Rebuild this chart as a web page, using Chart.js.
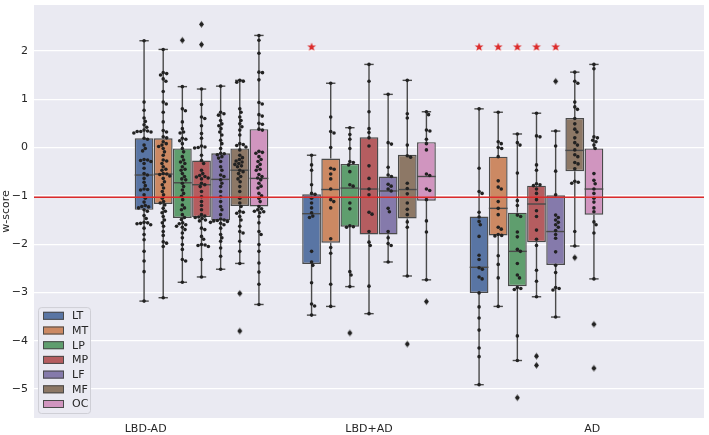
<!DOCTYPE html>
<html><head><meta charset="utf-8">
<script src="https://cdn.jsdelivr.net/npm/chart.js@4"></script>
<style>html,body{margin:0;padding:0;background:#fff}#wrap{width:709px;height:435px;position:relative}</style>
</head><body><div id="wrap"><canvas id="c"></canvas></div>
<script>
const groups = ['LBD-AD', 'LBD+AD', 'AD'];
const regions = ['LT', 'MT', 'LP', 'MP', 'LF', 'MF', 'OC'];
const colors = ['#5975a4', '#cc8963', '#5f9e6e', '#b55d60', '#857aab', '#8d7866', '#d095bf'];
const yTickValues = [-5, -4, -3, -2, -1, 0, 1, 2];

// box statistics per group (rows) and region (columns)
const boxQ3 = [
  [0.19, 0.19, -0.02, -0.27, -0.12, -0.02, 0.38],
  [-0.97, -0.23, -0.34, 0.21, -0.60, -0.15, 0.11],
  [-1.43, -0.19, -1.35, -0.79, -0.99, 0.61, -0.02]
];
const boxMedian = [
  [-0.57, -0.55, -0.73, -0.77, -0.66, -0.47, -0.64],
  [-1.37, -0.87, -0.84, -0.86, -0.90, -0.87, -0.60],
  [-2.48, -1.26, -2.15, -1.17, -1.74, -0.06, -0.86]
];
const boxQ1 = [
  [-1.29, -1.17, -1.46, -1.44, -1.51, -1.21, -1.22],
  [-2.41, -1.97, -1.64, -1.80, -1.80, -1.47, -1.10],
  [-3.01, -1.82, -2.87, -1.96, -2.43, -0.49, -1.39]
];
const whiskerHigh = [
  [2.21, 2.03, 1.26, 1.21, 1.27, 1.39, 2.32],
  [-0.16, 1.33, 0.41, 1.72, 1.10, 1.39, 0.74],
  [0.80, 0.73, 0.28, 0.71, 0.34, 1.56, 1.72]
];
const whiskerLow = [
  [-3.18, -3.11, -2.79, -2.68, -2.52, -2.40, -3.25],
  [-3.47, -3.29, -2.88, -3.44, -2.37, -2.66, -2.74],
  [-4.91, -3.29, -4.41, -3.09, -3.51, -2.04, -2.72]
];

// individual subjects (swarm) per region
const swarmLBD_AD = [
  [2.21, 0.94, 0.77, 0.61, 0.54, 0.47, 0.42, 0.36, 0.34, 0.33, 0.33, 0.32, 0.30, 0.19, 0.17, 0.05, -0.02, -0.07, -0.25, -0.26, -0.27, -0.29, -0.33, -0.43, -0.54, -0.57, -0.64, -0.72, -0.79, -0.86, -0.87, -0.88, -0.98, -1.05, -1.13, -1.20, -1.22, -1.23, -1.25, -1.29, -1.32, -1.41, -1.47, -1.55, -1.56, -1.57, -1.58, -1.60, -1.67, -1.80, -1.91, -2.15, -2.35, -2.57, -3.18],
  [2.03, 1.55, 1.53, 1.50, 1.42, 1.37, 1.16, 0.94, 0.90, 0.73, 0.53, 0.35, 0.32, 0.22, 0.20, 0.12, 0.08, 0.05, 0.02, -0.02, -0.09, -0.16, -0.26, -0.28, -0.33, -0.40, -0.45, -0.47, -0.54, -0.55, -0.56, -0.59, -0.64, -0.71, -0.77, -0.84, -0.91, -0.98, -1.05, -1.12, -1.15, -1.19, -1.26, -1.32, -1.35, -1.43, -1.50, -1.56, -1.63, -1.74, -1.82, -1.95, -1.98, -2.05, -3.11],
  [2.22, 1.26, 0.80, 0.76, 0.53, 0.39, 0.32, 0.30, 0.19, 0.17, 0.14, 0.08, -0.02, -0.09, -0.19, -0.26, -0.30, -0.33, -0.40, -0.45, -0.47, -0.54, -0.60, -0.65, -0.67, -0.74, -0.81, -0.88, -0.95, -1.01, -1.08, -1.19, -1.25, -1.29, -1.39, -1.45, -1.49, -1.56, -1.58, -1.60, -1.63, -1.65, -1.70, -1.77, -1.87, -2.01, -2.11, -2.32, -2.35, -2.79],
  [2.55, 2.13, 1.21, 0.89, 0.63, 0.60, 0.45, 0.29, 0.19, 0.03, 0.01, 0.00, -0.01, -0.16, -0.27, -0.33, -0.47, -0.54, -0.58, -0.60, -0.61, -0.63, -0.65, -0.74, -0.77, -0.81, -0.91, -1.02, -1.12, -1.20, -1.29, -1.39, -1.42, -1.44, -1.45, -1.47, -1.50, -1.52, -1.67, -1.70, -1.84, -1.90, -2.01, -2.02, -2.03, -2.05, -2.32, -2.68],
  [1.27, 0.73, 0.70, 0.67, 0.56, 0.49, 0.45, 0.39, 0.32, 0.26, 0.15, 0.08, -0.02, -0.12, -0.13, -0.15, -0.19, -0.22, -0.29, -0.40, -0.47, -0.57, -0.60, -0.67, -0.74, -0.81, -0.91, -1.02, -1.12, -1.22, -1.29, -1.39, -1.48, -1.50, -1.51, -1.52, -1.53, -1.55, -1.57, -1.60, -1.67, -1.80, -1.87, -1.94, -2.08, -2.25, -2.52],
  [1.39, 1.37, 1.35, 0.80, 0.73, 0.63, 0.56, 0.49, 0.43, 0.36, 0.26, 0.08, 0.06, 0.04, 0.01, -0.05, -0.16, -0.21, -0.25, -0.28, -0.30, -0.33, -0.35, -0.38, -0.40, -0.47, -0.50, -0.54, -0.60, -0.65, -0.71, -0.81, -0.91, -1.05, -1.15, -1.22, -1.32, -1.34, -1.36, -1.43, -1.50, -1.63, -1.74, -1.77, -1.94, -2.15, -2.40, -3.02, -3.80],
  [2.32, 2.22, 1.95, 1.56, 1.55, 1.40, 0.93, 0.90, 0.68, 0.65, 0.50, 0.48, 0.38, 0.36, -0.08, -0.10, -0.12, -0.19, -0.25, -0.29, -0.35, -0.40, -0.45, -0.47, -0.56, -0.60, -0.63, -0.67, -0.74, -0.80, -0.84, -0.95, -1.00, -1.05, -1.12, -1.22, -1.27, -1.29, -1.32, -1.33, -1.35, -1.43, -1.56, -1.74, -1.80, -2.01, -2.15, -2.39, -2.58, -2.83, -3.25]
];
const swarmLBD_plus_AD = [
  [-0.16, -0.36, -0.47, -0.77, -0.95, -0.97, -1.05, -1.15, -1.25, -1.35, -1.42, -1.45, -2.15, -2.37, -2.44, -2.80, -3.24, -3.28, -3.47],
  [1.33, 0.63, 0.33, 0.30, 0.00, -0.43, -0.45, -0.55, -0.65, -0.86, -1.08, -1.12, -1.25, -1.89, -2.07, -2.19, -2.83, -3.29],
  [0.41, 0.27, 0.17, -0.02, -0.29, -0.31, -0.36, -0.50, -0.77, -0.80, -1.15, -1.27, -1.62, -1.64, -1.65, -2.57, -2.64, -2.88, -3.84],
  [1.72, 1.37, 0.74, 0.39, 0.31, 0.20, 0.03, -0.38, -0.64, -0.86, -0.98, -1.34, -1.38, -1.74, -1.96, -2.03, -2.87, -3.44],
  [1.10, 0.10, 0.07, -0.41, -0.57, -0.60, -0.76, -0.80, -0.86, -0.90, -1.26, -1.33, -1.74, -1.87, -1.99, -2.03, -2.37],
  [1.39, 0.70, 0.61, 0.05, -0.17, -0.20, -0.74, -0.85, -0.96, -1.15, -1.28, -1.39, -1.54, -1.65, -2.66, -4.07],
  [0.74, 0.68, 0.36, 0.34, 0.17, 0.08, -0.05, -0.55, -0.58, -0.86, -0.89, -1.08, -1.52, -1.75, -2.74, -3.19]
];
const swarmAD = [
  [0.80, -0.43, -0.91, -0.95, -1.34, -1.44, -1.53, -1.60, -1.84, -2.23, -2.32, -2.49, -2.52, -2.68, -2.72, -3.01, -3.30, -3.53, -3.78, -4.15, -4.33, -4.91],
  [0.73, 0.12, 0.08, -0.02, 0.00, -0.19, -0.69, -0.82, -0.86, -1.12, -1.26, -1.39, -1.65, -1.69, -1.80, -1.82, -1.83, -2.24, -2.42, -2.70, -3.29],
  [0.28, 0.10, 0.05, -0.53, -1.10, -1.20, -1.40, -1.43, -1.75, -1.85, -2.11, -2.15, -2.40, -2.64, -2.70, -2.90, -2.92, -2.94, -3.90, -4.41, -5.18],
  [0.71, 0.24, 0.22, -0.36, -0.47, -0.75, -0.77, -0.79, -0.86, -0.95, -1.08, -1.31, -1.43, -1.71, -1.90, -2.03, -2.54, -2.77, -3.09, -4.32, -4.51],
  [1.37, 0.34, 0.03, -0.49, -0.98, -1.40, -1.45, -1.50, -1.55, -1.60, -1.65, -1.72, -1.80, -1.88, -2.16, -2.44, -2.59, -2.90, -2.92, -2.95, -3.51],
  [1.56, 1.37, 1.33, 0.94, 0.84, 0.79, 0.60, 0.49, 0.38, 0.32, 0.20, 0.10, 0.05, -0.05, -0.15, -0.19, -0.31, -0.34, -0.44, -0.70, -0.72, -0.74, -1.74, -2.04, -2.28],
  [1.72, 1.63, 0.22, 0.20, 0.15, 0.12, 0.05, -0.02, -0.54, -0.68, -0.75, -0.86, -0.95, -1.05, -1.13, -1.25, -1.33, -1.54, -1.60, -1.77, -2.72, -3.66, -4.57]
];
const swarmSets = [swarmLBD_AD, swarmLBD_plus_AD, swarmAD];

// significance markers (1 = star above box)
const significant = [
  [0, 0, 0, 0, 0, 0, 0],
  [1, 0, 0, 0, 0, 0, 0],
  [1, 1, 1, 1, 1, 0, 0]
];
const starLevel = 2.08;
const thresholdLevel = -1.03;

const FONT = '"DejaVu Sans", "Liberation Sans", sans-serif';
const TXT = '#262626';
const EDGE = '#4a4a4a';
const RED = '#dc2b2b';
const BG = '#eaeaf2';
const nHue = regions.length;
const slotCenter = (gi, h) => gi + (h - (nHue - 1) / 2) * 0.8 / nHue;

function makeStar(r, color) {
  const c = document.createElement('canvas');
  const s = Math.ceil(r * 2 + 2);
  c.width = s; c.height = s;
  const g = c.getContext('2d');
  g.fillStyle = color;
  g.beginPath();
  for (let i = 0; i < 10; i++) {
    const a = -Math.PI / 2 + i * Math.PI / 5;
    const rr = i % 2 ? r * 0.42 : r;
    g.lineTo(s / 2 + rr * Math.cos(a), s / 2 + rr * Math.sin(a));
  }
  g.closePath(); g.fill();
  return c;
}
function makeDiamond(w, h, color) {
  const c = document.createElement('canvas');
  c.width = Math.ceil(w + 2); c.height = Math.ceil(h + 2);
  const g = c.getContext('2d');
  g.fillStyle = color;
  const cx = c.width / 2, cy = c.height / 2;
  g.beginPath();
  g.moveTo(cx, cy - h / 2); g.lineTo(cx + w / 2, cy); g.lineTo(cx, cy + h / 2); g.lineTo(cx - w / 2, cy);
  g.closePath(); g.fill();
  return c;
}

const barDatasets = regions.map((r, h) => ({
  type: 'bar',
  label: r,
  data: groups.map((g, gi) => ({ x: slotCenter(gi, h), y: [boxQ1[gi][h], boxQ3[gi][h]] })),
  backgroundColor: colors[h],
  borderColor: EDGE,
  borderWidth: 1.4,
  borderSkipped: false,
  grouped: false,
  categoryPercentage: 1,
  barPercentage: 0.98,
  xAxisID: 'xs', yAxisID: 'y',
  order: 3
}));

const outlierData = [];
const swarmData = [];
groups.forEach((g, gi) => regions.forEach((r, h) => {
  swarmSets[gi][h].forEach(v => {
    swarmData.push({ x: slotCenter(gi, h), y: v });
    if (v > whiskerHigh[gi][h] || v < whiskerLow[gi][h]) outlierData.push({ x: slotCenter(gi, h), y: v });
  });
}));
const starData = [];
groups.forEach((g, gi) => regions.forEach((r, h) => {
  if (significant[gi][h]) starData.push({ x: slotCenter(gi, h), y: starLevel });
}));

const datasets = barDatasets.concat([
  { type: 'scatter', label: 'outliers', data: outlierData, xAxisID: 'xs', yAxisID: 'y',
    pointStyle: makeDiamond(5, 7, EDGE), order: 2 },
  { type: 'scatter', label: 'subjects', data: swarmData, xAxisID: 'xs', yAxisID: 'y',
    pointStyle: 'circle', pointRadius: 1.8, backgroundColor: '#222', borderWidth: 0, order: 1 },
  { type: 'scatter', label: 'significance', data: starData, xAxisID: 'xs', yAxisID: 'y',
    pointStyle: makeStar(4.6, RED), order: 0 }
]);

const bgPlugin = {
  id: 'bg',
  beforeDraw(chart) {
    const { ctx, chartArea: a } = chart;
    ctx.save(); ctx.fillStyle = BG; ctx.fillRect(a.left, a.top, a.right - a.left, a.bottom - a.top); ctx.restore();
  }
};

const boxPlugin = {
  id: 'boxParts',
  afterDatasetDraw(chart, args) {
    if (args.index !== 0) return;
    const ctx = chart.ctx, y = chart.scales.y;
    ctx.save();
    ctx.strokeStyle = EDGE; ctx.lineWidth = 1.4; ctx.lineCap = 'butt';
    const seg = (x1, y1, x2, y2) => { ctx.beginPath(); ctx.moveTo(x1, y1); ctx.lineTo(x2, y2); ctx.stroke(); };
    regions.forEach((r, h) => {
      chart.getDatasetMeta(h).data.forEach((bar, gi) => {
        const cx = bar.x, w = bar.width;
        const pHi = y.getPixelForValue(whiskerHigh[gi][h]);
        const pLo = y.getPixelForValue(whiskerLow[gi][h]);
        const pQ3 = y.getPixelForValue(boxQ3[gi][h]);
        const pQ1 = y.getPixelForValue(boxQ1[gi][h]);
        const pMed = y.getPixelForValue(boxMedian[gi][h]);
        seg(cx, pQ3, cx, pHi);
        seg(cx, pQ1, cx, pLo);
        seg(cx - w / 4, pHi, cx + w / 4, pHi);
        seg(cx - w / 4, pLo, cx + w / 4, pLo);
        seg(cx - w / 2, pMed, cx + w / 2, pMed);
      });
    });
    ctx.restore();
  }
};

const overlayPlugin = {
  id: 'overlay',
  afterDatasetDraw(chart, args) {
    if (args.meta.label !== 'subjects') return;
    const { ctx, chartArea: a } = chart;
    const py = chart.scales.y.getPixelForValue(thresholdLevel);
    ctx.save();
    ctx.strokeStyle = RED; ctx.lineWidth = 1.6;
    ctx.beginPath(); ctx.moveTo(a.left, py); ctx.lineTo(a.right, py); ctx.stroke();
    ctx.restore();
  },
  afterDraw(chart) {
    const { ctx, chartArea: a } = chart;
    const rowH = 14.7, n = regions.length;
    const fw = 52, fh = rowH * n + 3;
    const fx = a.left + 4, fy = a.bottom - 5 - fh;
    ctx.save();
    ctx.fillStyle = 'rgba(234,234,242,0.85)';
    ctx.strokeStyle = '#cfcfd6'; ctx.lineWidth = 1;
    ctx.beginPath();
    if (ctx.roundRect) ctx.roundRect(fx + 0.5, fy + 0.5, fw, fh, 3); else ctx.rect(fx + 0.5, fy + 0.5, fw, fh);
    ctx.fill(); ctx.stroke();
    ctx.font = '11px ' + FONT; ctx.textBaseline = 'middle'; ctx.textAlign = 'left';
    chart.data.datasets.slice(0, n).forEach((ds, k) => {
      const cy = fy + 8.7 + rowH * k;
      ctx.fillStyle = ds.backgroundColor; ctx.strokeStyle = EDGE; ctx.lineWidth = 1;
      ctx.fillRect(fx + 5, cy - 4, 21, 8); ctx.strokeRect(fx + 5.5, cy - 3.5, 20, 7);
      ctx.fillStyle = TXT;
      ctx.fillText(ds.label, fx + 34, cy + 0.5);
    });
    ctx.restore();
  }
};

const chart = new Chart(document.getElementById('c'), {
  type: 'bar',
  data: { labels: groups, datasets },
  plugins: [bgPlugin, boxPlugin, overlayPlugin],
  options: {
    responsive: true, maintainAspectRatio: false, animation: false,
    events: [],
    layout: { padding: { top: 2, right: 1, left: 0, bottom: 0 } },
    plugins: { legend: { display: false }, tooltip: { enabled: false } },
    scales: {
      x: {
        type: 'category', offset: true,
        grid: { display: false, drawTicks: false }, border: { display: false },
        ticks: { color: TXT, font: { family: FONT, size: 11 }, padding: 5 },
        afterFit(s) { s.height = 17; s.paddingLeft = 0; s.paddingRight = 0; }
      },
      xs: { type: 'linear', min: -0.5, max: 2.5, display: false, ticks: { stepSize: 1 } },
      y: {
        min: -5.6, max: 2.95,
        grid: { color: '#ffffff', lineWidth: 1.2, drawTicks: false },
        border: { display: false },
        afterBuildTicks(s) { s.ticks = yTickValues.map(v => ({ value: v })); },
        ticks: { color: TXT, font: { family: FONT, size: 11 }, padding: 6,
                 callback: v => String(v).replace('-', '\u2212') },
        title: { display: true, text: 'w-score', color: TXT, font: { family: FONT, size: 11 }, padding: 0 },
        afterFit(s) { s.width = 34; s.paddingTop = 0; s.paddingBottom = 0; }
      }
    }
  }
});

// beeswarm placement of the subject points, done in pixel space of the chart's own scales
(function layoutSwarm() {
  const ys = chart.scales.y, xs = chart.scales.xs;
  const pxPerUnit = xs.getPixelForValue(1) - xs.getPixelForValue(0);
  const d = 3.6;
  const pts = [];
  groups.forEach((g, gi) => regions.forEach((r, h) => {
    const cx = slotCenter(gi, h);
    const vals = swarmSets[gi][h].slice().sort((a, b) => b - a);
    const placed = [];
    vals.forEach(v => {
      const py = ys.getPixelForValue(v);
      const cands = [0];
      placed.forEach(p => {
        const dy = Math.abs(p.py - py);
        if (dy < d) { const dx = Math.sqrt(d * d - dy * dy); cands.push(p.px + dx, p.px - dx); }
      });
      cands.sort((a, b) => Math.abs(a) - Math.abs(b));
      let px = cands.find(c => placed.every(p => (p.px - c) ** 2 + (p.py - py) ** 2 >= d * d - 1e-6));
      if (px === undefined) px = 0;
      placed.push({ px, py });
      pts.push({ x: cx + px / pxPerUnit, y: v });
    });
  }));
  chart.data.datasets.find(ds => ds.label === 'subjects').data = pts;
  chart.update('none');
})();
</script></body></html>
